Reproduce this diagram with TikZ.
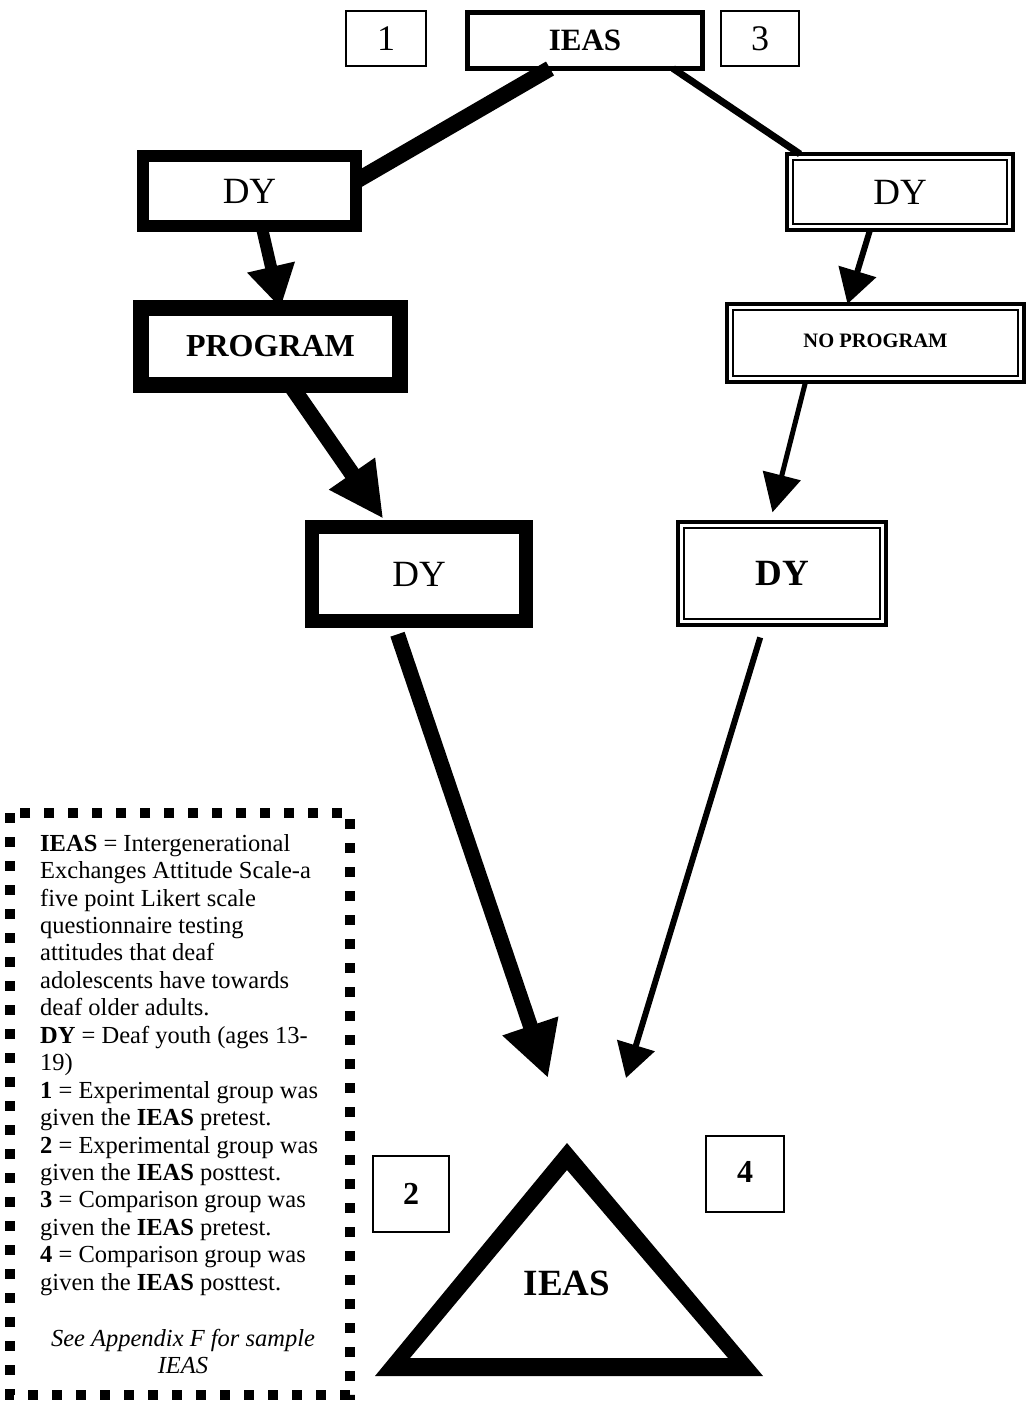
\documentclass[tikz,border=0pt]{standalone}
\usepackage{fontspec}
\setmainfont{Liberation Serif}
\usetikzlibrary{arrows.meta}
\begin{document}
\begin{tikzpicture}[x=1pt,y=-1pt,
  box/.style={draw, fill=white, inner sep=0pt, outer sep=0pt},
  thinbox/.style={box, line width=2pt},
  bigtxt/.style={font=\fontsize{37}{40}\selectfont},
  conn/.style={line cap=butt},
]
\useasboundingbox (0,0) rectangle (1029,1412);

% top row
\node[thinbox, minimum width=80pt, minimum height=55pt, font=\fontsize{36}{40}\selectfont] (b1) at (386,38.5) {1};
\node[box, line width=5pt, minimum width=235pt, minimum height=56pt, font=\bfseries\fontsize{31}{34}\selectfont] (ieasTop) at (585,40.5) {IEAS};
\node[thinbox, minimum width=78pt, minimum height=55pt, font=\fontsize{36}{40}\selectfont] (b3) at (760,38.5) {3};

% left branch
\node[box, line width=12pt, minimum width=213pt, minimum height=70pt, bigtxt] (dyL) at (249.5,191) {DY};
\node[box, line width=16pt, minimum width=259pt, minimum height=77pt, font=\bfseries\fontsize{32}{35}\selectfont] (prog) at (270.5,346.5) {PROGRAM};
\node[box, line width=14pt, minimum width=214pt, minimum height=94pt, bigtxt] (dyC) at (419,574) {DY};

% right branch
\node[box, line width=4pt, minimum width=226pt, minimum height=76pt, bigtxt] (dyR) at (900,192) {DY};
\draw[line width=1.6pt] ([shift={(6,6)}]dyR.north west) rectangle ([shift={(-6,-6)}]dyR.south east);
\node[box, line width=4pt, minimum width=297pt, minimum height=78pt, font=\bfseries\fontsize{20.5}{23}\selectfont] (noprog) at (875.5,343) {\raisebox{4pt}{NO PROGRAM}};
\draw[line width=1.6pt] ([shift={(6,6)}]noprog.north west) rectangle ([shift={(-6,-6)}]noprog.south east);
\node[box, line width=4pt, minimum width=208pt, minimum height=103pt, font=\bfseries\fontsize{37}{40}\selectfont] (dyR2) at (782,573.5) {DY};
\draw[line width=1.6pt] ([shift={(6,6)}]dyR2.north west) rectangle ([shift={(-6,-6)}]dyR2.south east);

% bottom
\node[thinbox, minimum width=76pt, minimum height=76pt, font=\bfseries\fontsize{32}{36}\selectfont] (b2) at (411,1194) {2};
\node[thinbox, minimum width=78pt, minimum height=76pt, font=\bfseries\fontsize{32}{36}\selectfont] (b4) at (745,1174) {\raisebox{4pt}{4}};
\fill[even odd rule] (567,1143) -- (375,1376) -- (763,1376) -- cycle
                     (567,1170) -- (410,1358) -- (728,1358) -- cycle;
\node[inner sep=0pt, font=\bfseries\fontsize{37}{40}\selectfont] (ieasBot) at (567,1283) {IEAS};
\coordinate (tL) at (548,1078);
\coordinate (tR) at (626,1078);

% connectors
\draw[conn, line width=16pt] ([xshift=-35pt]ieasTop.south) -- ([yshift=10pt]dyL.east);
\draw[conn, line width=7pt] ([xshift=88pt]ieasTop.south) -- ([xshift=-100pt]dyR.north);
\draw[conn, line width=12pt, -{Triangle[length=42pt,width=46pt]}] ([xshift=12pt]dyL.south) -- ([xshift=10pt]prog.north);
\draw[conn, line width=16pt, shorten >=10pt, -{Triangle[length=55pt,width=52pt]}] ([xshift=20pt]prog.south) -- ([xshift=-30pt]dyC.north);
\draw[conn, line width=6pt, -{Triangle[length=34pt,width=38pt]}] ([xshift=-30pt]dyR.south) -- ([xshift=-28pt]noprog.north);
\draw[conn, line width=5pt, shorten >=10pt, -{Triangle[length=38pt,width=38pt]}] ([xshift=-70pt]noprog.south) -- ([xshift=-12pt]dyR2.north);
\draw[conn, line width=15pt, shorten <=14pt, -{Triangle[length=55pt,width=55pt]}] ([xshift=-26pt]dyC.south) -- (tL);
\draw[conn, line width=6pt, shorten <=13pt, -{Triangle[length=34pt,width=38pt]}] ([xshift=-18pt]dyR2.south) -- (tR);

% legend
\draw[line width=10pt, dash pattern=on 10pt off 14pt] (10,813) rectangle (350,1395);
\node[anchor=north west, inner sep=0pt, align=left, font=\fontsize{24.5}{27.44}\selectfont] (legend) at (40,834) {%
\textbf{IEAS} = Intergenerational\\
Exchanges Attitude Scale-a\\
five point Likert scale\\
questionnaire testing\\
attitudes that deaf\\
adolescents have towards\\
deaf older adults.\\
\textbf{DY} = Deaf youth (ages 13-\\
19)\\
\textbf{1} = Experimental group was\\
given the \textbf{IEAS} pretest.\\
\textbf{2} = Experimental group was\\
given the \textbf{IEAS} posttest.\\
\textbf{3} = Comparison group was\\
given the \textbf{IEAS} pretest.\\
\textbf{4} = Comparison group was\\
given the \textbf{IEAS} posttest.};
\node[anchor=north, inner sep=0pt, align=center, font=\itshape\fontsize{24.5}{27.44}\selectfont] (appendix) at (183,1329) {See Appendix F for sample\\IEAS};
\end{tikzpicture}
\end{document}
